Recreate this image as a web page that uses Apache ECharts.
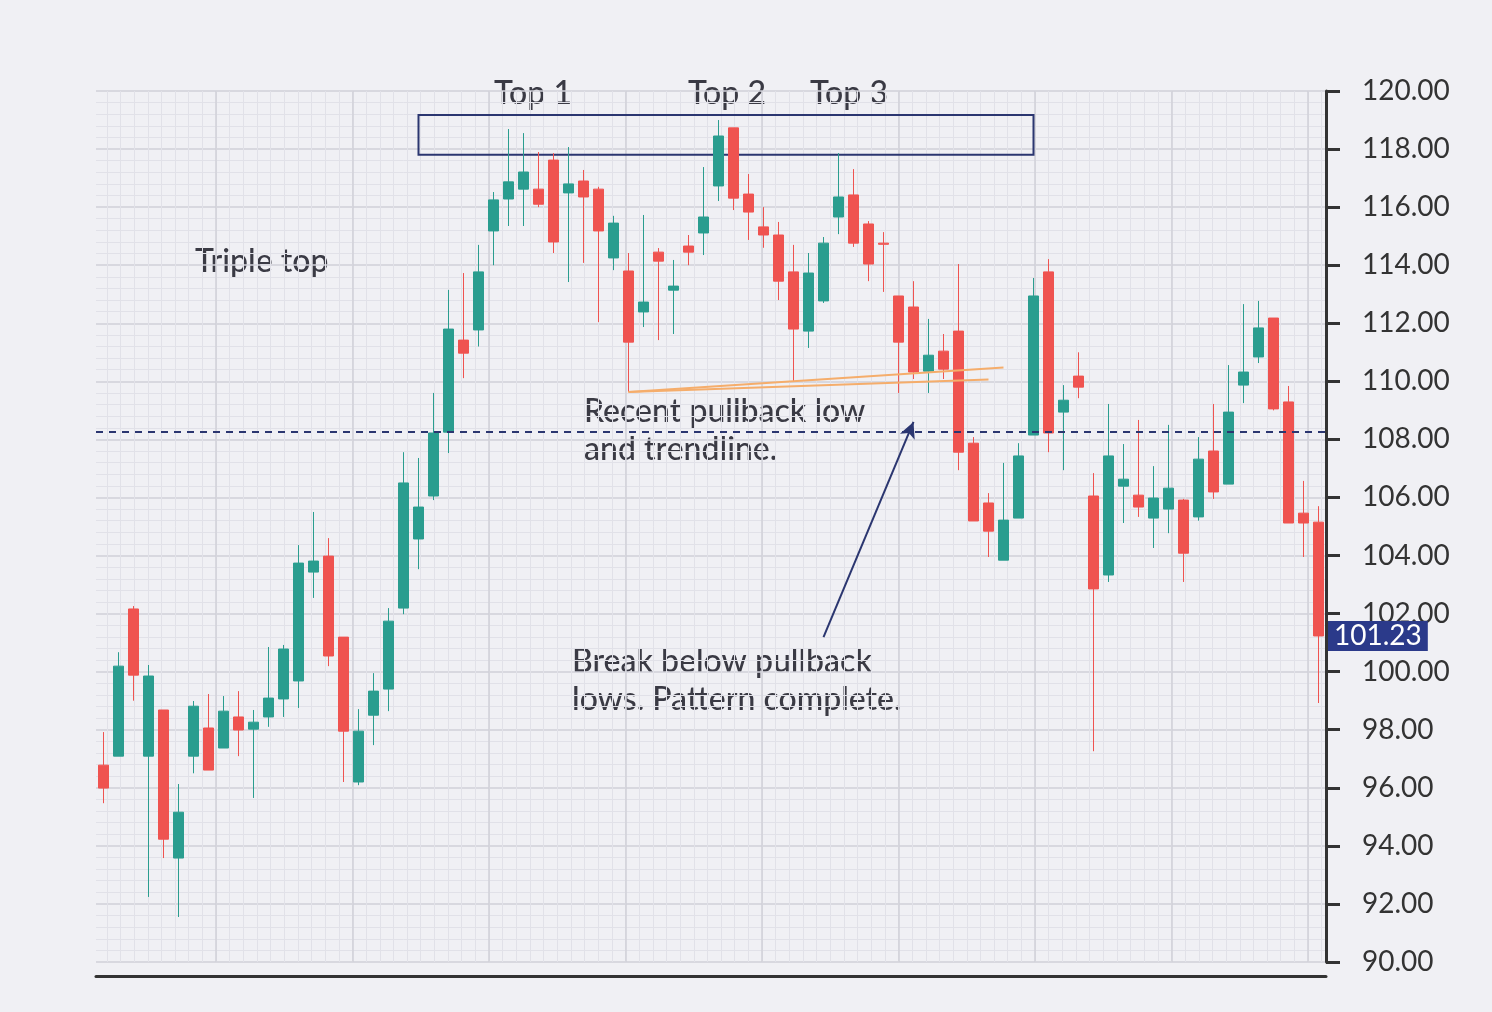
<!DOCTYPE html>
<html><head><meta charset="utf-8">
<script src="https://cdn.jsdelivr.net/npm/echarts@6/dist/echarts.min.js"></script>
<style>html,body{margin:0;padding:0;background:#f0f0f4}#c{width:1492px;height:1012px}</style>
</head><body><div id="c"></div>
<script>
// [open, close, low, high]
const candles = [
[96.78,95.99,95.47,97.92],[97.09,100.19,97.09,100.67],[102.16,99.88,99.0,102.26],[97.09,99.85,92.24,100.23],
[98.68,94.23,93.58,98.68],[93.58,95.16,91.55,96.13],[97.09,98.81,96.5,98.99],[98.06,96.61,96.61,99.23],
[97.37,98.64,97.37,99.16],[98.44,97.99,97.09,99.33],[98.02,98.26,95.65,98.68],[98.44,99.09,98.1,100.85],
[99.06,100.78,98.44,100.92],[99.68,103.74,98.75,104.36],[103.43,103.81,102.54,105.5],[103.98,100.54,100.19,104.6],
[101.19,97.95,96.2,101.19],[96.2,97.95,96.09,98.71],[98.5,99.33,97.47,99.95],[99.4,101.74,98.64,102.19],
[102.19,106.5,101.98,107.56],[104.57,105.67,103.53,107.36],[106.05,108.22,105.91,109.6],[108.25,111.8,107.53,113.15],
[111.42,110.97,110.11,113.73],[111.77,113.77,111.2,114.7],[115.18,116.25,114.0,116.52],[116.28,116.87,115.35,118.69],
[116.62,117.21,115.35,118.55],[116.62,116.1,116.0,117.9],[117.62,114.8,114.42,117.86],[116.49,116.8,113.42,118.07],
[116.9,116.35,114.08,117.28],[116.62,115.18,112.04,116.7],[114.25,115.45,113.83,115.7],[113.8,111.35,109.63,114.42],
[112.39,112.73,111.87,115.73],[114.45,114.14,111.42,114.59],[113.14,113.28,111.63,114.18],[114.66,114.45,114.0,115.04],
[115.11,115.66,114.35,117.38],[116.73,118.45,116.21,119.0],[118.73,116.31,115.9,118.73],[116.45,115.83,114.87,117.14],
[115.32,115.04,114.6,116.0],[115.04,113.45,112.8,115.49],[113.77,111.8,109.98,114.7],[111.73,113.73,111.15,114.42],
[112.77,114.76,112.7,114.97],[115.66,116.35,115.07,117.86],[116.42,114.76,114.63,117.31],[115.42,114.04,113.45,115.52],
[114.76,114.72,113.08,115.14],[112.94,111.35,109.6,112.94],[112.56,110.32,110.08,113.45],[110.35,110.9,109.6,112.15],
[111.04,110.42,110.08,111.63],[111.73,107.56,106.94,114.04],[107.87,105.19,105.19,108.08],[105.81,104.84,103.95,106.15],
[103.84,105.22,103.84,107.19],[105.29,107.43,105.29,107.87],[108.15,112.94,108.15,113.56],[113.77,108.22,107.56,114.21],
[108.94,109.35,106.94,109.87],[110.18,109.8,109.42,111.0],[106.05,102.85,97.26,106.84],[103.33,107.43,103.09,109.22],
[106.39,106.63,105.12,107.84],[106.08,105.67,105.33,108.67],[105.29,105.98,104.26,107.08],[105.6,106.32,104.77,108.5],
[105.91,104.08,103.09,105.95],[105.33,107.32,105.2,108.08],[107.6,106.19,105.95,109.22],[106.46,108.94,106.46,110.56],
[109.87,110.32,109.25,112.66],[110.84,111.84,110.63,112.77],[112.18,109.05,109.0,112.18],[109.29,105.12,105.12,109.84],
[105.46,105.12,103.95,106.57],[105.15,101.23,98.92,105.7]
];
const categories = candles.map((d,i)=>String(i+1));
const lastPrice = 101.23;
const pullbackLevel = 108.25;
const topBox = [[20.85,119.17],[62.1,117.8]];
const trendA = [[35,109.63],[60,110.48]];
const trendB = [[35,109.63],[59.1,110.06]];
const arrow = [[48.1,101.19],[54.16,108.6]];
const majorX = [7.5,16.6,25.7,34.8,43.9,53.0,62.1,71.2,80.3];
const minorX = [];
for (let v = 7.5 - 9.1; v < 82; v += 0.91) if (v > -0.5) minorX.push(+v.toFixed(2));

const GREEN='#2a9d8f', RED='#ef5350', NAVY='#2b3670', TXT='#3a3a44';
const F='Lato';
const chart = echarts.init(document.getElementById('c'));
const hiddenX = (vals, color, w, z) => ({
  type:'value', min:-0.5, max:81.5, position:'bottom', show:true,
  axisLine:{show:false, onZero:false}, axisLabel:{show:false},
  axisTick:{show:false, customValues:vals},
  splitLine:{show:true, lineStyle:{color:color, width:w}}, z:z
});
chart.setOption({
  backgroundColor:'#f0f0f4',
  animation:false,
  grid:{left:96, right:166, top:91, bottom:50},
  xAxis:[
    {type:'category', data:categories, boundaryGap:true, offset:14,
     axisLine:{onZero:false, lineStyle:{color:'#333', width:3}}, axisTick:{show:false}, axisLabel:{show:false}, splitLine:{show:false}},
    hiddenX(minorX,'#e1e1e8',1,0),
    hiddenX(majorX,'#d0d0d8',1.5,1)
  ],
  yAxis:{type:'value', position:'right', min:90, max:120, interval:2,
    axisLine:{show:true, onZero:false, lineStyle:{color:'#333', width:3}},
    axisTick:{show:true, inside:false, length:14, lineStyle:{color:'#333', width:3}},
    axisLabel:{margin:36, color:'#333', fontSize:28, fontFamily:F, formatter:v=>v.toFixed(2)},
    splitLine:{lineStyle:{color:'#d0d0d8', width:1.5}},
    minorTick:{show:false, splitNumber:5},
    minorSplitLine:{show:true, lineStyle:{color:'#e1e1e8', width:1}}
  },
  series:[
    {type:'candlestick', data:candles, barWidth:11, clip:false,
     itemStyle:{color:GREEN, color0:RED, borderColor:GREEN, borderColor0:RED, borderWidth:1},
     markArea:{silent:true, itemStyle:{color:'rgba(0,0,0,0)', borderColor:NAVY, borderWidth:2},
       data:[[{coord:topBox[0]},{coord:topBox[1]}]]},
     markLine:{silent:true, symbol:'none', animation:false,
       data:[
         {yAxis:pullbackLevel, lineStyle:{color:NAVY, type:[7,6], width:2}, label:{show:false}},
         [{coord:trendA[0]},{coord:trendA[1], lineStyle:{color:'#f5ad6b', type:'solid', width:2}, label:{show:false}}],
         [{coord:trendB[0]},{coord:trendB[1], lineStyle:{color:'#f5ad6b', type:'solid', width:2}, label:{show:false}}],
         [{coord:arrow[0], symbol:'none'},{coord:arrow[1], symbol:'arrow', symbolSize:[12,16], lineStyle:{color:NAVY, type:'solid', width:2}, label:{show:false}}],
         {yAxis:lastPrice, lineStyle:{color:'rgba(0,0,0,0)', width:0}, label:{show:true, position:'end', distance:2,
           formatter:lastPrice.toFixed(2), color:'#fff', backgroundColor:'#2b3a8a', fontSize:28, fontFamily:F,
           padding:[2,6,0,6]}}
       ]}
    }
  ],
  graphic:[
    {type:'text', left:494, top:78, style:{text:'Top 1', fontSize:32, fontFamily:F, fontWeight:500, fill:TXT}},
    {type:'text', left:688, top:78, style:{text:'Top 2', fontSize:32, fontFamily:F, fontWeight:500, fill:TXT}},
    {type:'text', left:810, top:78, style:{text:'Top 3', fontSize:32, fontFamily:F, fontWeight:500, fill:TXT}},
    {type:'text', left:195, top:246, style:{text:'Triple top', fontSize:32, fontFamily:F, fontWeight:500, fill:TXT}},
    {type:'text', left:584, top:393, style:{text:'Recent pullback low\nand trendline.', fontSize:32, lineHeight:38, fontFamily:F, fontWeight:500, fill:TXT}},
    {type:'text', left:572, top:643, style:{text:'Break below pullback\nlows. Pattern complete.', fontSize:32, lineHeight:38, fontFamily:F, fontWeight:500, fill:TXT}}
  ]
});
</script></body></html>
